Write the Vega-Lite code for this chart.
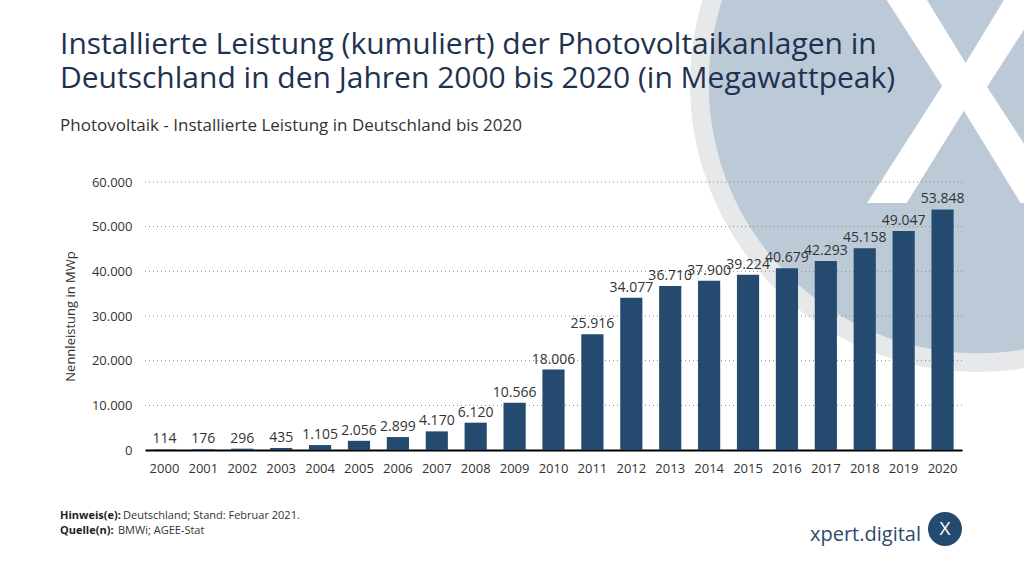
{
  "$schema": "https://vega.github.io/schema/vega-lite/v6.json",
  "width": 817,
  "height": 268,
  "autosize": {"type": "none"},
  "padding": {"left": 145, "top": 182, "right": 62, "bottom": 127},
  "background": "white",
  "config": {
    "locale": {"number": {"decimal": ",", "thousands": ".", "grouping": [3], "currency": ["", " €"]}},
    "view": {"stroke": null},
    "font": "Open Sans"
  },
  "datasets": {
    "pv": [
      {"Jahr": "2000", "MWp": 114},
      {"Jahr": "2001", "MWp": 176},
      {"Jahr": "2002", "MWp": 296},
      {"Jahr": "2003", "MWp": 435},
      {"Jahr": "2004", "MWp": 1105},
      {"Jahr": "2005", "MWp": 2056},
      {"Jahr": "2006", "MWp": 2899},
      {"Jahr": "2007", "MWp": 4170},
      {"Jahr": "2008", "MWp": 6120},
      {"Jahr": "2009", "MWp": 10566},
      {"Jahr": "2010", "MWp": 18006},
      {"Jahr": "2011", "MWp": 25916},
      {"Jahr": "2012", "MWp": 34077},
      {"Jahr": "2013", "MWp": 36710},
      {"Jahr": "2014", "MWp": 37900},
      {"Jahr": "2015", "MWp": 39224},
      {"Jahr": "2016", "MWp": 40679},
      {"Jahr": "2017", "MWp": 42293},
      {"Jahr": "2018", "MWp": 45158},
      {"Jahr": "2019", "MWp": 49047},
      {"Jahr": "2020", "MWp": 53848}
    ],
    "grid": [
      {"g": 10000}, {"g": 20000}, {"g": 30000}, {"g": 40000}, {"g": 50000}, {"g": 60000}
    ],
    "one": [{"k": 1}]
  },
  "layer": [
    {
      "data": {"name": "one"},
      "mark": {"type": "point", "shape": "circle", "filled": true, "color": "#e6e8ea", "opacity": 1, "size": 331776, "x": 833, "y": -98},
      "encoding": {}
    },
    {
      "data": {"name": "one"},
      "mark": {"type": "point", "shape": "circle", "filled": true, "color": "#bccad8", "opacity": 1, "size": 290000, "x": 833, "y": -98},
      "encoding": {}
    },
    {
      "data": {"name": "one"},
      "mark": {"type": "text", "text": "X", "font": "Open Sans", "fontSize": 316, "fontWeight": 600, "color": "white", "align": "center", "baseline": "alphabetic", "x": 820, "y": 21},
      "encoding": {}
    },
    {
      "data": {"name": "one"},
      "mark": {"type": "text", "text": "Installierte Leistung (kumuliert) der Photovoltaikanlagen in", "font": "Open Sans", "fontSize": 30, "color": "#1e3250", "align": "left", "baseline": "alphabetic", "x": -85, "y": -128},
      "encoding": {}
    },
    {
      "data": {"name": "one"},
      "mark": {"type": "text", "text": "Deutschland in den Jahren 2000 bis 2020 (in Megawattpeak)", "font": "Open Sans", "fontSize": 30, "color": "#1e3250", "align": "left", "baseline": "alphabetic", "x": -85, "y": -94},
      "encoding": {}
    },
    {
      "data": {"name": "one"},
      "mark": {"type": "text", "text": "Photovoltaik - Installierte Leistung in Deutschland bis 2020", "font": "Open Sans", "fontSize": 17, "color": "#333333", "align": "left", "baseline": "alphabetic", "x": -85, "y": -51},
      "encoding": {}
    },
    {
      "data": {"name": "grid"},
      "mark": {"type": "rule", "color": "#8a8a8a", "strokeWidth": 1, "strokeDash": [1, 3]},
      "encoding": {"y": {"field": "g", "type": "quantitative"}}
    },
    {
      "data": {"name": "pv"},
      "mark": {"type": "bar", "color": "#244a6f"},
      "encoding": {
        "x": {
          "field": "Jahr", "type": "ordinal",
          "scale": {"paddingInner": 0.43, "paddingOuter": 0.215},
          "axis": {"title": null, "labelAngle": 0, "labelFontSize": 13, "labelColor": "#333333", "labelPadding": 12, "ticks": false, "domainColor": "#000000", "domainWidth": 2}
        },
        "y": {
          "field": "MWp", "type": "quantitative",
          "scale": {"domain": [0, 60000]},
          "axis": {"title": "Nennleistung in MWp", "values": [0, 10000, 20000, 30000, 40000, 50000, 60000], "format": ",d", "grid": false, "domain": false, "ticks": false, "labelFontSize": 13, "labelColor": "#333333", "labelPadding": 13, "titleFontSize": 13, "titleFontWeight": "normal", "titleColor": "#333333", "titlePadding": 14}
        }
      }
    },
    {
      "data": {"name": "pv"},
      "mark": {"type": "text", "baseline": "bottom", "dy": -3, "fontSize": 14, "color": "#333333", "font": "Open Sans"},
      "encoding": {
        "x": {"field": "Jahr", "type": "ordinal"},
        "y": {"field": "MWp", "type": "quantitative"},
        "text": {"field": "MWp", "type": "quantitative", "format": ",d"}
      }
    },
    {
      "data": {"name": "one"},
      "mark": {"type": "text", "text": "Hinweis(e):", "fontSize": 11, "fontWeight": "bold", "color": "#222222", "align": "left", "x": -85, "y": 334},
      "encoding": {}
    },
    {
      "data": {"name": "one"},
      "mark": {"type": "text", "text": "Deutschland; Stand: Februar 2021.", "fontSize": 11, "color": "#333333", "align": "left", "x": -22, "y": 334},
      "encoding": {}
    },
    {
      "data": {"name": "one"},
      "mark": {"type": "text", "text": "Quelle(n):", "fontSize": 11, "fontWeight": "bold", "color": "#222222", "align": "left", "x": -85, "y": 349},
      "encoding": {}
    },
    {
      "data": {"name": "one"},
      "mark": {"type": "text", "text": "BMWi; AGEE-Stat", "fontSize": 11, "color": "#333333", "align": "left", "x": -27, "y": 349},
      "encoding": {}
    },
    {
      "data": {"name": "one"},
      "mark": {"type": "text", "text": "xpert.digital", "fontSize": 20, "color": "#2c4a6b", "align": "left", "x": 665, "y": 353},
      "encoding": {}
    },
    {
      "data": {"name": "one"},
      "mark": {"type": "point", "shape": "circle", "filled": true, "color": "#244a6f", "opacity": 1, "size": 1156, "x": 800, "y": 347},
      "encoding": {}
    },
    {
      "data": {"name": "one"},
      "mark": {"type": "text", "text": "X", "fontSize": 19, "color": "white", "align": "center", "baseline": "middle", "x": 800, "y": 347},
      "encoding": {}
    }
  ]
}
